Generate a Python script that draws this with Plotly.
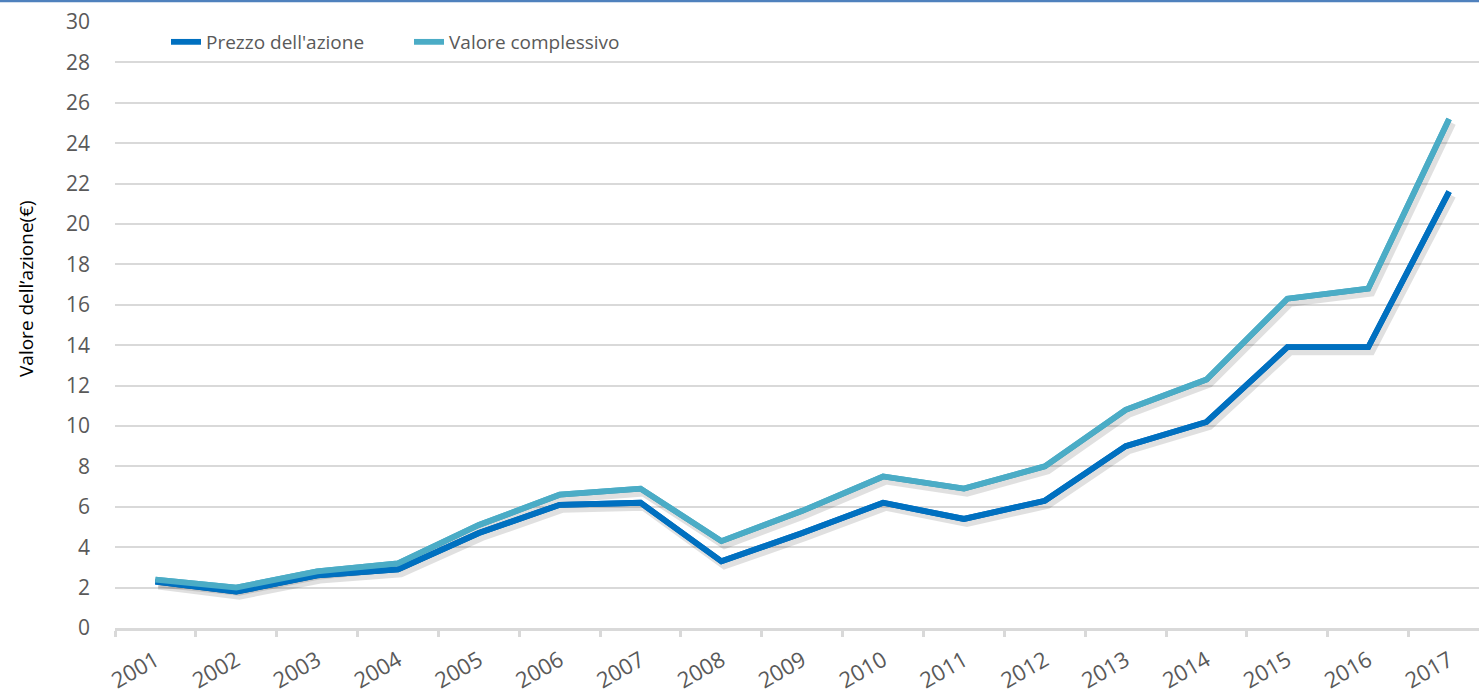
import plotly.graph_objects as go

years = [str(y) for y in range(2001, 2018)]
prezzo = [2.3, 1.8, 2.6, 2.9, 4.7, 6.1, 6.2, 3.3, 4.7, 6.2, 5.4, 6.3, 9.0, 10.2, 13.9, 13.9, 21.6]
valore = [2.4, 2.0, 2.8, 3.2, 5.1, 6.6, 6.9, 4.3, 5.8, 7.5, 6.9, 8.0, 10.8, 12.3, 16.3, 16.8, 25.2]
y_ticks = list(range(0, 31, 2))

series = [("Prezzo dell'azione", prezzo, "#0070C0"),
          ("Valore complessivo", valore, "#4BACC6")]

W, H = 1479, 696
ml, mr, mt, mb = 115, 0, 22, 68
pw = W - ml - mr
ph = H - mt - mb

xr = [-0.5, 16.37]
yr = [0, 30]
# shadow offset (pixels -> data units)
dx = 3 * (xr[1] - xr[0]) / pw
dy = 4 * (yr[1] - yr[0]) / ph

fig = go.Figure()
# base layer (legend entries)
for name, vals, col in series:
    fig.add_trace(go.Scatter(x=years, y=vals, name=name, mode="lines",
                             line=dict(color=col, width=5.8)))
# soft shadow, offset a few pixels right/down
for name, vals, col in series:
    fig.add_trace(go.Scatter(x=years, y=vals, mode="lines", showlegend=False, hoverinfo="skip",
                             xaxis="x2", yaxis="y2",
                             line=dict(color="rgba(0,0,0,0.12)", width=8)))
# lines on top of shadow
for name, vals, col in series:
    fig.add_trace(go.Scatter(x=years, y=vals, name=name, mode="lines", showlegend=False,
                             xaxis="x3", yaxis="y3",
                             line=dict(color=col, width=5.8)))

fig.update_layout(
    width=W, height=H,
    margin=dict(l=ml, r=mr, t=mt, b=mb),
    plot_bgcolor="white", paper_bgcolor="white",
    font=dict(family="Open Sans, Noto Sans, sans-serif", color="#595959"),
    legend=dict(orientation="h", x=(166 - ml) / pw, xanchor="left",
                y=(H - mb - 42) / ph, yanchor="middle",
                font=dict(size=19, color="#595959"), bgcolor="rgba(0,0,0,0)",
                entrywidth=198),
    xaxis=dict(type="category", range=xr, showgrid=False,
               showline=True, linecolor="#D9D9D9", linewidth=3,
               ticks="outside", tickson="boundaries", ticklen=6, tickwidth=3, tickcolor="#D9D9D9",
               tickangle=-30, ticklabelstandoff=8, tickfont=dict(size=22, color="#595959")),
    yaxis=dict(range=yr, tickvals=y_ticks, showgrid=True, gridcolor="#D9D9D9", gridwidth=2,
               zeroline=False, showline=False, ticks="", ticklabelstandoff=24,
               tickfont=dict(size=21, color="#595959")),
    xaxis2=dict(type="category", range=[xr[0] - dx, xr[1] - dx], overlaying="x", visible=False,
                categoryarray=years),
    yaxis2=dict(range=[yr[0] + dy, yr[1] + dy], overlaying="y", visible=False),
    xaxis3=dict(type="category", range=xr, overlaying="x", visible=False, categoryarray=years),
    yaxis3=dict(range=yr, overlaying="y", visible=False),
    showlegend=True,
)

fig.add_annotation(text="Valore dell’azione(€)", textangle=-90, xref="paper", yref="paper",
                   x=(26 - ml) / pw, y=(H - mb - 289) / ph, xanchor="center", yanchor="middle",
                   showarrow=False, font=dict(size=19, color="#000000"))

fig.add_shape(type="line", xref="paper", yref="paper",
              x0=-ml / pw, x1=1, y0=1 + (mt - 1) / ph, y1=1 + (mt - 1) / ph,
              line=dict(color="#4F81BD", width=2.5))

fig.write_html("out.html", config={"displayModeBar": False},
               post_script="document.body.style.margin='0';")
